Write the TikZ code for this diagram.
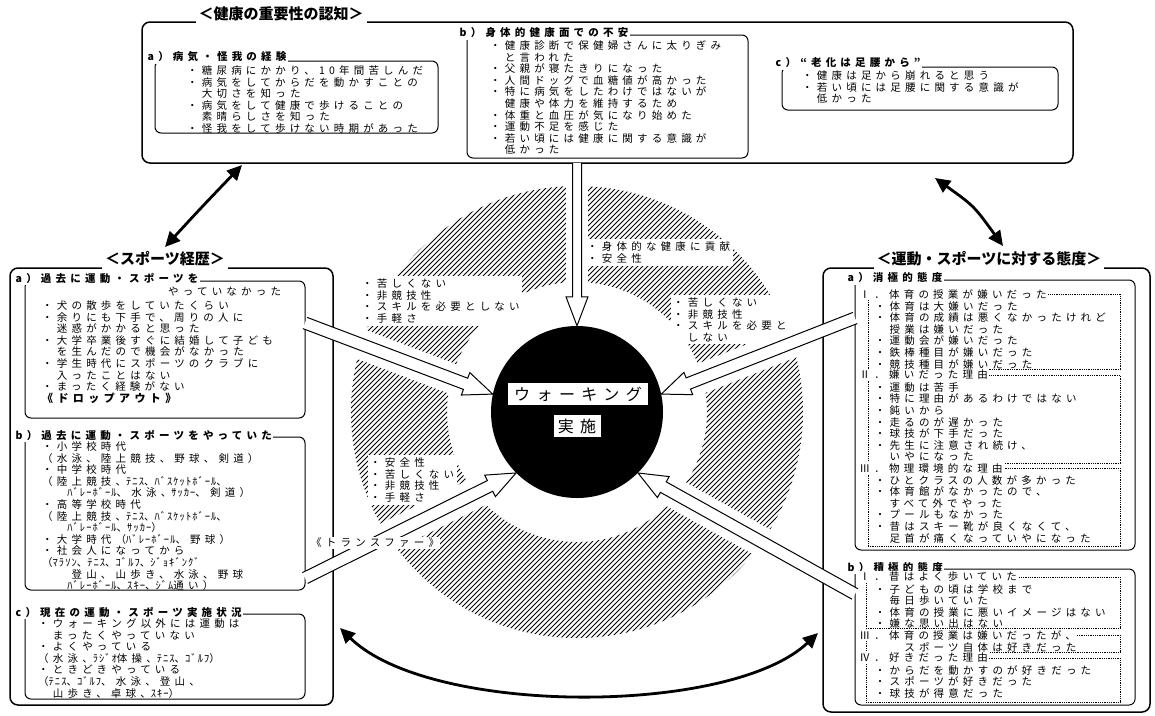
\documentclass[tikz,border=0pt]{standalone}
\usepackage{fontspec}
\setmainfont{Noto Sans CJK JP}
\newfontfamily\bodyfont{Noto Sans CJK JP}[LetterSpace=40]
\newfontfamily\hwfont{Noto Sans CJK JP}[LetterSpace=10]
\newfontfamily\bigfont{Noto Sans CJK JP}[LetterSpace=40]
\usetikzlibrary{arrows.meta,calc,backgrounds}
\newcommand{\hw}[1]{{\hwfont #1}}
\newcommand{\hollowarrow}[4]{%
  \coordinate (hb) at ($(#2)!29pt!(#1)$);
  \filldraw[hollow] ($(#1)!#3!90:(#2)$) -- ($(hb)!#3!90:(#2)$) -- ($(hb)!#4!90:(#2)$) -- (#2)
    -- ($(hb)!#4!-90:(#2)$) -- ($(hb)!#3!-90:(#2)$) -- ($(#1)!#3!-90:(#2)$);}
\tikzset{
  outerbox/.style={draw, line width=1.5pt, rounded corners=8pt, inner sep=0pt},
  subbox/.style={draw, line width=1pt, rounded corners=6pt, inner sep=0pt},
  dotbox/.style={draw, densely dotted, line width=0.8pt, inner sep=0pt},
  boxtitle/.style={fill=white, inner sep=3pt, font=\bfseries\fontsize{15}{18}\selectfont},
  headtext/.style={fill=white, inner sep=1.5pt, anchor=west, font=\bodyfont\bfseries\fontsize{10.5}{11.6}\selectfont},
  numhead/.style={fill=white, inner sep=1.5pt, anchor=west, font=\bodyfont\fontsize{10.5}{11.6}\selectfont},
  itemtext/.style={anchor=north west, align=left, inner sep=0pt, font=\bodyfont\fontsize{10.5}{11.6}\selectfont},
  ringtext/.style={itemtext, fill=white, inner sep=2.5pt},
  walkdisc/.style={circle, fill=black, minimum size=172, inner sep=0pt},
  walklabel/.style={fill=white, inner sep=2pt, minimum height=22, font=\bigfont\fontsize{16}{18}\selectfont},
  hatchline/.style={line width=1pt},
  clearband/.style={white, line width=#1},
  hollow/.style={draw=black, fill=white, line width=1pt, line join=miter},
  bothways/.style={{Triangle[length=15pt,width=14pt]}-{Triangle[length=15pt,width=14pt]}, line width=2.8pt}
}
\begin{document}
\begin{tikzpicture}[x=1pt, y=-1pt]
\useasboundingbox (0,0) rectangle (1155,715);

% walking at the centre
\coordinate (hub) at (577,412);
\node[walkdisc] (walk) at (hub) {};
\node[walklabel, minimum width=140] (walkA) at (578,394) {ウォーキング};
\node[walklabel, minimum width=47] (walkB) at (577,426) {実施};

\node[ringtext] (gainTop) at (584.5,239) {・身体的な健康に貢献\\・安全性};
\node[ringtext] (gainUL) at (359.5,276) {・苦しくない\\・非競技性\\・スキルを必要としない\\・手軽さ};
\node[ringtext] (gainUR) at (670.5,295) {・苦しくない\\・非競技性\\・スキルを必要と\\　しない};
\node[ringtext] (gainLL) at (367.5,455) {・安全性\\・苦しくない\\・非競技性\\・手軽さ};

% health
\node[outerbox, minimum width=931, minimum height=141] (health) at (607.5,92.5) {};
\node[boxtitle] (healthT) at (281,14) {＜健康の重要性の認知＞};
\node[subbox, minimum width=283, minimum height=72] (illness) at (296.5,97) {};
\node[headtext] (illnessH) at (146,57) {a）病気・怪我の経験};
\node[itemtext] (illnessL) at (187,65.5) {・糖尿病にかかり、10年間苦しんだ\\・病気をしてからだを動かすことの\\　大切さを知った\\・病気をして健康で歩けることの\\　素晴らしさを知った\\・怪我をして歩けない時期があった};
\node[subbox, minimum width=281, minimum height=123] (anxiety) at (607.5,96.5) {};
\node[headtext] (anxietyH) at (458,33) {b）身体的健康面での不安};
\node[itemtext] (anxietyL) at (490,40.5) {・健康診断で保健婦さんに太りぎみ\\　と言われた\\・父親が寝たきりになった\\・人間ドッグで血糖値が高かった\\・特に病気をしたわけではないが\\　健康や体力を維持するため\\・体重と血圧が気になり始めた\\・運動不足を感じた\\・若い頃には健康に関する意識が\\　低かった};
\node[subbox, minimum width=276, minimum height=43] (aging) at (920,88.5) {};
\node[headtext] (agingH) at (774,63) {c）“老化は足腰から”};
\node[itemtext] (agingL) at (802,70.5) {・健康は足から崩れると思う\\・若い頃には足腰に関する意識が\\　低かった};

% sports career
\node[outerbox, minimum width=323, minimum height=437] (career) at (171.5,486.5) {};
\node[boxtitle] (careerT) at (165,259) {＜スポーツ経歴＞};
\node[subbox, minimum width=280, minimum height=137] (never) at (165,349.5) {};
\node[headtext] (neverH) at (14,278) {a）過去に運動・スポーツを};
\node[itemtext, anchor=west] (neverH2) at (168,292) {やっていなかった};
\node[itemtext] (neverL) at (42,300.5) {・犬の散歩をしていたくらい\\・余りにも下手で、周りの人に\\　迷惑がかかると思った\\・大学卒業後すぐに結婚して子ども\\　を生んだので機会がなかった\\・学生時代にスポーツのクラブに\\　入ったことはない\\・まったく経験がない\\{\bfseries\fontsize{11}{11.6}\selectfont《ドロップアウト》}};
\node[subbox, minimum width=280, minimum height=153] (past) at (165,513.5) {};
\node[headtext] (pastH) at (14,435) {b）過去に運動・スポーツをやっていた};
\node[itemtext] (pastL) at (42,441.5) {・小学校時代\\（水泳、陸上競技、野球、剣道）\\・中学校時代\\（陸上競技、\hw{ﾃﾆｽ}、\hw{ﾊﾞｽｹｯﾄﾎﾞｰﾙ}、\\　　\hw{ﾊﾞﾚｰﾎﾞｰﾙ}、水泳、\hw{ｻｯｶｰ}、剣道）\\・高等学校時代\\（陸上競技、\hw{ﾃﾆｽ}、\hw{ﾊﾞｽｹｯﾄﾎﾞｰﾙ}、\\　　\hw{ﾊﾞﾚｰﾎﾞｰﾙ}、\hw{ｻｯｶｰ}）\\・大学時代（\hw{ﾊﾞﾚｰﾎﾞｰﾙ}、野球）\\・社会人になってから\\（\hw{ﾏﾗｿﾝ}、\hw{ﾃﾆｽ}、\hw{ｺﾞﾙﾌ}、\hw{ｼﾞｮｷﾞﾝｸﾞ}\\　　登山、山歩き、水泳、野球\\　　\hw{ﾊﾞﾚｰﾎﾞｰﾙ}、\hw{ｽｷｰ}、\hw{ｼﾞﾑ}通い）};
\node[subbox, minimum width=280, minimum height=85] (present) at (165,656.5) {};
\node[headtext] (presentH) at (14,612) {c）現在の運動・スポーツ実施状況};
\node[itemtext] (presentL) at (38,618.5) {・ウォーキング以外には運動は\\　まったくやっていない\\・よくやっている\\（水泳、\hw{ﾗｼﾞｵ}体操、\hw{ﾃﾆｽ}、\hw{ｺﾞﾙﾌ}）\\・ときどきやっている\\（\hw{ﾃﾆｽ}、\hw{ｺﾞﾙﾌ}、水泳、登山、\\　山歩き、卓球、\hw{ｽｷｰ}）};

% attitude
\node[outerbox, minimum width=327, minimum height=444] (attitude) at (986.5,490) {};
\node[boxtitle] (attitudeT) at (989,259) {＜運動・スポーツに対する態度＞};
\node[subbox, minimum width=280, minimum height=270] (neg) at (995,415) {};
\node[headtext] (negH) at (846,278) {a）消極的態度};
\node[dotbox, minimum width=252, minimum height=75] (negI) at (994,331.5) {};
\node[dotbox, minimum width=252, minimum height=88] (negII) at (994,419) {};
\node[dotbox, minimum width=252, minimum height=78] (negIII) at (994,507) {};
\node[numhead] (negIH) at (858,294) {Ⅰ．体育の授業が嫌いだった};
\node[itemtext] (negIL) at (860,301.1) {　・体育は大嫌いだった\\　・体育の成績は悪くなかったけれど\\　　授業は嫌いだった\\　・運動会が嫌いだった\\　・鉄棒種目が嫌いだった\\　・競技種目が嫌いだった};
\node[numhead] (negIIH) at (858,375) {Ⅱ．嫌いだった理由};
\node[itemtext] (negIIL) at (860,382.3) {　・運動は苦手\\　・特に理由があるわけではない\\　・鈍いから\\　・走るのが遅かった\\　・球技が下手だった\\　・先生に注意され続け、\\　　いやになった};
\node[numhead] (negIIIH) at (858,468) {Ⅲ．物理環境的な理由};
\node[itemtext] (negIIIL) at (860,475.1) {　・ひとクラスの人数が多かった\\　・体育館がなかったので、\\　　すべて外でやった\\　・プールもなかった\\　・昔はスキー靴が良くなくて、\\　　足首が痛くなっていやになった};
\node[subbox, minimum width=280, minimum height=136] (pos) at (995,637) {};
\node[headtext] (posH) at (846,567) {b）積極的態度};
\node[dotbox, minimum width=254, minimum height=51] (posI) at (993,602.5) {};
\node[dotbox, minimum width=254, minimum height=17] (posIII) at (993,643.5) {};
\node[dotbox, minimum width=254, minimum height=44] (posIV) at (993,680) {};
\node[numhead] (posIH) at (858,577) {Ⅰ．昔はよく歩いていた};
\node[itemtext] (posIL) at (860,584.1) {　・子どもの頃は学校まで\\　　毎日歩いていた\\　・体育の授業に悪いイメージはない\\　・嫌な思い出はない};
\node[numhead] (posIIIH) at (858,635) {Ⅲ．体育の授業は嫌いだったが、};
\node[itemtext] (posIIIL) at (860,642.1) {　　　スポーツ自体は好きだった};
\node[numhead] (posIVH) at (858,658) {Ⅳ．好きだった理由};
\node[itemtext] (posIVL) at (860,665.3) {　・からだを動かすのが好きだった\\　・スポーツが好きだった\\　・球技が得意だった};

% arrows into walking
\coordinate (topS) at (577,163);
\coordinate (ulS) at (305,323);
\coordinate (llS) at (305,578);
\coordinate (urS) at (855,318);
\coordinate (lrS) at (855,594);
\begin{pgfonlayer}{background}
\begin{scope}[even odd rule]
\clip (hub) circle[radius=226] (hub) circle[radius=130];
\foreach \k in {-66,...,66}
  \draw[hatchline] ($(hub)+(\k*5-240,240)$) -- ++(480,-480);
\end{scope}
\draw[clearband=22pt] (topS) -- (walk.north);
\draw[clearband=30pt] (ulS) -- (walk.168);
\draw[clearband=30pt] (urS) -- (walk.12);
\draw[clearband=30pt] (llS) -- (walk.225);
\draw[clearband=30pt] (lrS) -- (walk.-45);
\end{pgfonlayer}
\hollowarrow{topS}{walk.north}{4.5pt}{11pt}
\hollowarrow{ulS}{walk.168}{6pt}{12pt}
\hollowarrow{urS}{walk.12}{6pt}{12pt}
\hollowarrow{llS}{walk.225}{6pt}{12pt}
\hollowarrow{lrS}{walk.-45}{6pt}{12pt}
\node[itemtext, anchor=west, fill=white, inner sep=1pt] (transfer) at (310,543) {《トランスファー》};

% links between the three boxes
\coordinate (hc1) at (165,247);
\coordinate (hc2) at (242,165);
\coordinate (ha1) at (935,178);
\coordinate (ha2) at (1003,246);
\coordinate (cb1) at (340,628);
\coordinate (cb2) at (818,633);
\draw[bothways] (hc1) .. controls (199,210) .. (hc2);
\draw[bothways] (ha1) .. controls (974,206) .. (ha2);
\draw[bothways] (cb1) .. controls (430,716) and (730,716) .. (cb2);
\end{tikzpicture}
\end{document}
